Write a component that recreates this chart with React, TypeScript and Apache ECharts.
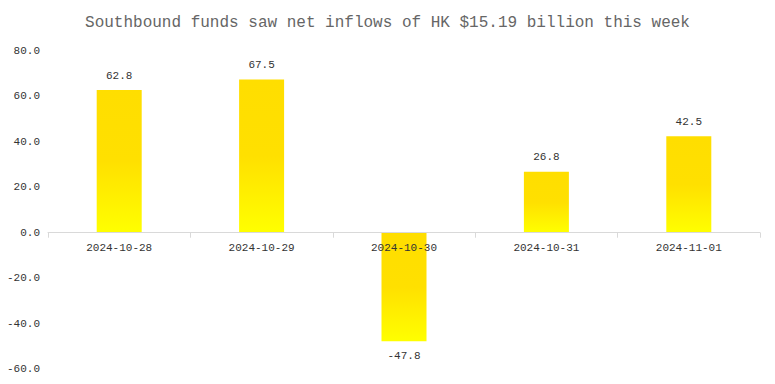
import React, { useEffect, useRef } from "react";
import * as echarts from "echarts";

const titleText = "Southbound funds saw net inflows of HK $15.19 billion this week";
const categories = ["2024-10-28", "2024-10-29", "2024-10-30", "2024-10-31", "2024-11-01"];
const values = [62.8, 67.5, -47.8, 26.8, 42.5];
const yMin = -60;
const yMax = 80;
const yStep = 20;

const FONT = "'Liberation Mono', 'DejaVu Sans Mono', monospace";
const GRID_TOP = 51;
const GRID_BOTTOM = 15;
const HEIGHT = 384;

export default function App() {
  const ref = useRef<HTMLDivElement>(null);
  useEffect(() => {
    if (!ref.current) return;
    const chart = echarts.init(ref.current, undefined, { renderer: "svg" });
    const gradient = new echarts.graphic.LinearGradient(0, 0, 0, 1, [
      { offset: 0, color: "#FFDE00" },
      { offset: 0.5, color: "#FFE000" },
      { offset: 1, color: "#FFFF00" },
    ]);
    const gridH = HEIGHT - GRID_TOP - GRID_BOTTOM;
    const zeroFromBottom = (gridH * (0 - yMin)) / (yMax - yMin);
    chart.setOption({
      animation: false,
      title: {
        text: titleText,
        left: "center",
        top: 10,
        textStyle: { fontFamily: FONT, fontSize: 16, fontWeight: "normal", color: "#666" },
      },
      grid: {
        left: 48,
        right: 15,
        top: GRID_TOP,
        bottom: GRID_BOTTOM,
        containLabel: false,
        outerBoundsMode: "none",
      },
      xAxis: {
        type: "category",
        data: categories,
        boundaryGap: true,
        position: "bottom",
        offset: -zeroFromBottom,
        z: 5,
        axisLine: { show: true, onZero: false, lineStyle: { color: "#d9d9d9" } },
        axisTick: { show: true, length: 5, lineStyle: { color: "#d9d9d9" } },
        axisLabel: { fontFamily: FONT, fontSize: 11, color: "#333", margin: 10 },
      },
      yAxis: {
        type: "value",
        min: yMin,
        max: yMax,
        interval: yStep,
        axisLine: { show: false },
        axisTick: { show: false },
        splitLine: { show: false },
        axisLabel: {
          fontFamily: FONT,
          fontSize: 11,
          color: "#333",
          margin: 8,
          formatter: (v: number) => v.toFixed(1),
        },
      },
      series: [
        {
          type: "bar",
          barWidth: 45,
          z: 2,
          itemStyle: { color: gradient },
          label: {
            show: true,
            fontFamily: FONT,
            fontSize: 11,
            color: "#333",
            distance: 9,
            formatter: (p: any) => Number(p.value).toFixed(1),
          },
          data: values.map((v) => ({
            value: v,
            label: { position: v < 0 ? "bottom" : "top" },
          })),
        },
      ],
    });
    return () => chart.dispose();
  }, []);
  return <div ref={ref} style={{ width: 775, height: 384, margin: -8 }} />;
}
